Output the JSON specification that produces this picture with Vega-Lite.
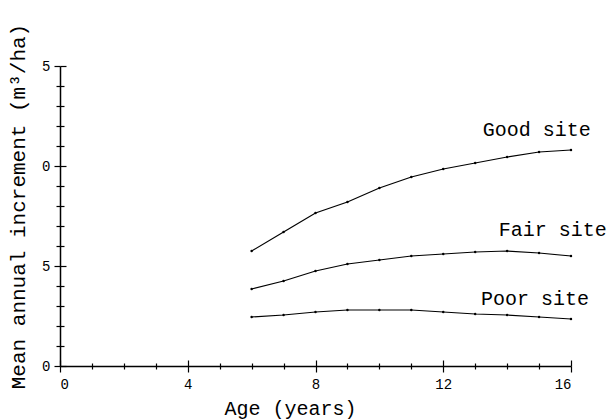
{
  "$schema": "https://vega.github.io/schema/vega-lite/v6.json",
  "autosize": "none",
  "width": 511,
  "height": 300,
  "padding": {"left": 60, "top": 66, "right": 39, "bottom": 54},
  "background": "white",
  "config": {
    "view": {"stroke": null},
    "font": "Liberation Mono",
    "axis": {
      "grid": false,
      "domainColor": "black",
      "domainWidth": 1.5,
      "tickColor": "black",
      "tickWidth": 1.2,
      "labelColor": "black",
      "labelFont": "Liberation Mono",
      "labelFontSize": 14,
      "titleColor": "black",
      "titleFont": "Liberation Mono",
      "titleFontWeight": "normal"
    }
  },
  "datasets": {
    "curves": [
      {"site": "Good", "age": 6, "mai": 5.75},
      {"site": "Good", "age": 7, "mai": 6.7},
      {"site": "Good", "age": 8, "mai": 7.65},
      {"site": "Good", "age": 9, "mai": 8.2},
      {"site": "Good", "age": 10, "mai": 8.9},
      {"site": "Good", "age": 11, "mai": 9.45},
      {"site": "Good", "age": 12, "mai": 9.85},
      {"site": "Good", "age": 13, "mai": 10.15},
      {"site": "Good", "age": 14, "mai": 10.45},
      {"site": "Good", "age": 15, "mai": 10.7},
      {"site": "Good", "age": 16, "mai": 10.8},
      {"site": "Fair", "age": 6, "mai": 3.85},
      {"site": "Fair", "age": 7, "mai": 4.25},
      {"site": "Fair", "age": 8, "mai": 4.75},
      {"site": "Fair", "age": 9, "mai": 5.1},
      {"site": "Fair", "age": 10, "mai": 5.3},
      {"site": "Fair", "age": 11, "mai": 5.5},
      {"site": "Fair", "age": 12, "mai": 5.6},
      {"site": "Fair", "age": 13, "mai": 5.7},
      {"site": "Fair", "age": 14, "mai": 5.75},
      {"site": "Fair", "age": 15, "mai": 5.65},
      {"site": "Fair", "age": 16, "mai": 5.5},
      {"site": "Poor", "age": 6, "mai": 2.45},
      {"site": "Poor", "age": 7, "mai": 2.55},
      {"site": "Poor", "age": 8, "mai": 2.7},
      {"site": "Poor", "age": 9, "mai": 2.8},
      {"site": "Poor", "age": 10, "mai": 2.8},
      {"site": "Poor", "age": 11, "mai": 2.8},
      {"site": "Poor", "age": 12, "mai": 2.7},
      {"site": "Poor", "age": 13, "mai": 2.6},
      {"site": "Poor", "age": 14, "mai": 2.55},
      {"site": "Poor", "age": 15, "mai": 2.45},
      {"site": "Poor", "age": 16, "mai": 2.35}
    ],
    "labels": [
      {"text": "Good site", "age": 14.93, "mai": 11.8},
      {"text": "Fair site", "age": 15.43, "mai": 6.8},
      {"text": "Poor site", "age": 14.87, "mai": 3.35}
    ]
  },
  "layer": [
    {
      "data": {"name": "curves"},
      "mark": {"type": "line", "color": "black", "strokeWidth": 1.2, "point": {"filled": true, "color": "black", "size": 6}},
      "encoding": {
        "x": {"field": "age", "type": "quantitative", "scale": {"domain": [0, 16], "nice": false, "zero": false},
          "axis": {"orient": "bottom", "values": [0, 4, 8, 12, 16], "tickSize": 6, "labelPadding": 5, "title": "Age (years)", "titleFontSize": 20, "titleX": 230, "titleY": 42, "titleBaseline": "middle", "titleAlign": "center"}},
        "y": {"field": "mai", "type": "quantitative", "scale": {"domain": [0, 15], "nice": false, "zero": false},
          "axis": {"orient": "left", "values": [0, 5, 10, 15], "tickSize": 6, "labelPadding": 4, "labelExpr": "datum.value == 0 || datum.value == 10 ? '0' : '5'", "title": "Mean annual increment (m³/ha)", "titleFontSize": 21, "titleX": -42, "titleY": 140, "titleAngle": -90, "titleBaseline": "middle", "titleAlign": "center"}},
        "detail": {"field": "site"}
      }
    },
    {
      "data": {"name": "curves"},
      "mark": {"type": "line", "opacity": 0},
      "encoding": {
        "x": {"field": "age", "type": "quantitative", "axis": {"orient": "bottom", "values": [0, 4, 8, 12, 16], "tickSize": -6, "labels": false, "domain": false, "title": null}},
        "y": {"field": "mai", "type": "quantitative", "axis": {"orient": "left", "values": [0, 5, 10, 15], "tickSize": -6, "labels": false, "domain": false, "title": null}},
        "detail": {"field": "site"}
      }
    },
    {
      "data": {"name": "curves"},
      "mark": {"type": "line", "opacity": 0},
      "encoding": {
        "x": {"field": "age", "type": "quantitative", "axis": {"orient": "bottom", "values": [1,2,3,5,6,7,9,10,11,13,14,15], "tickSize": 3, "labels": false, "domain": false, "title": null}},
        "y": {"field": "mai", "type": "quantitative", "axis": {"orient": "left", "values": [1,2,3,4,6,7,8,9,11,12,13,14], "tickSize": 4, "labels": false, "domain": false, "title": null}},
        "detail": {"field": "site"}
      }
    },
    {
      "data": {"name": "curves"},
      "mark": {"type": "line", "opacity": 0},
      "encoding": {
        "x": {"field": "age", "type": "quantitative", "axis": {"orient": "bottom", "values": [1,2,3,5,6,7,9,10,11,13,14,15], "tickSize": -3, "labels": false, "domain": false, "title": null}},
        "y": {"field": "mai", "type": "quantitative", "axis": {"orient": "left", "values": [1,2,3,4,6,7,8,9,11,12,13,14], "tickSize": -4, "labels": false, "domain": false, "title": null}},
        "detail": {"field": "site"}
      }
    },
    {
      "data": {"name": "labels"},
      "mark": {"type": "text", "font": "Liberation Mono", "fontSize": 20, "color": "black", "align": "center", "baseline": "middle"},
      "encoding": {
        "x": {"field": "age", "type": "quantitative", "axis": null},
        "y": {"field": "mai", "type": "quantitative", "axis": null},
        "text": {"field": "text"}
      }
    }
  ],
  "resolve": {"axis": {"x": "independent", "y": "independent"}}
}
